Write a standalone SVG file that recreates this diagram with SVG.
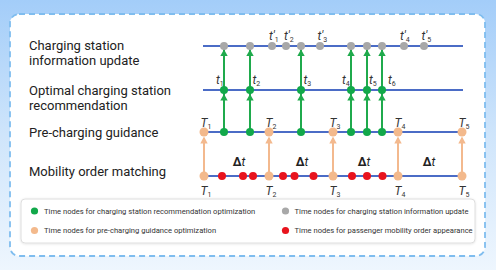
<svg xmlns="http://www.w3.org/2000/svg" width="496" height="270" viewBox="0 0 496 270">
  <defs>
    <linearGradient id="bg" x1="0" y1="0" x2="0" y2="1">
      <stop offset="0" stop-color="#a3cdf9"/>
      <stop offset="0.5" stop-color="#cfe5fb"/>
      <stop offset="1" stop-color="#eef6fe"/>
    </linearGradient>
    <filter id="sh" x="-5%" y="-20%" width="110%" height="140%">
      <feDropShadow dx="0" dy="0.5" stdDeviation="0.8" flood-color="#000" flood-opacity="0.12"/>
    </filter>
  </defs>
  <style>
    .lbl { font-family: Roboto, "Liberation Sans", sans-serif; font-size: 13px; fill: #222; }
    .leg { font-family: Roboto, "Liberation Sans", sans-serif; font-size: 7.6px; fill: #333; }
    .var { font-family: Roboto, "Liberation Sans", sans-serif; font-style: italic; font-size: 12px; fill: #333; }
    .sub { font-size: 7px; font-style: normal; }
    .dt { font-family: Roboto, "Liberation Sans", sans-serif; font-size: 12px; fill: #222; text-anchor: middle; }
    .axis { stroke: #4b6cc6; stroke-width: 2; fill: none; }
    .gl { stroke: #1faa4c; stroke-width: 2; fill: none; }
    .ol { stroke: #f3b98e; stroke-width: 2; fill: none; }
    .ga { fill: #1faa4c; }
    .oa { fill: #f3b98e; }
    .gn { fill: #12a84a; }
    .yn { fill: #a8a8a8; }
    .on { fill: #f3b98c; }
    .rn { fill: #e8131d; }
  </style>
  <rect x="0" y="0" width="496" height="270" fill="url(#bg)"/>
  <rect x="10" y="14" width="475" height="242" rx="9" fill="#ffffff" stroke="#7fbdef" stroke-width="1.8" stroke-dasharray="6 4"/>

  <g id="row-labels">
    <text class="lbl" x="29" y="50">Charging station</text>
    <text class="lbl" x="29" y="65">information update</text>
    <text class="lbl" x="29" y="95">Optimal charging station</text>
    <text class="lbl" x="29" y="110">recommendation</text>
    <text class="lbl" x="29" y="137">Pre-charging guidance</text>
    <text class="lbl" x="29" y="176">Mobility order matching</text>
  </g>

  <g id="axes">
    <line class="axis" x1="203" y1="46" x2="463" y2="46"/>
    <line class="axis" x1="203" y1="90" x2="463" y2="90"/>
    <line class="axis" x1="203" y1="132" x2="463" y2="132"/>
    <line class="axis" x1="203" y1="176" x2="463" y2="176"/>
  </g>

  <g id="connectors">
    <line class="gl" x1="224" y1="132" x2="224" y2="46"/>
    <line class="gl" x1="250" y1="132" x2="250" y2="46"/>
    <line class="gl" x1="301" y1="132" x2="301" y2="46"/>
    <line class="gl" x1="351" y1="132" x2="351" y2="46"/>
    <line class="gl" x1="367" y1="132" x2="367" y2="46"/>
    <line class="gl" x1="382" y1="132" x2="382" y2="46"/>
    <polygon class="ga" points="224,94 220.3,100.5 227.7,100.5"/>
    <polygon class="ga" points="250,94 246.3,100.5 253.7,100.5"/>
    <polygon class="ga" points="301,94 297.3,100.5 304.7,100.5"/>
    <polygon class="ga" points="351,94 347.3,100.5 354.7,100.5"/>
    <polygon class="ga" points="367,94 363.3,100.5 370.7,100.5"/>
    <polygon class="ga" points="382,94 378.3,100.5 385.7,100.5"/>
    <polygon class="ga" points="224,49.5 220.3,56 227.7,56"/>
    <polygon class="ga" points="250,49.5 246.3,56 253.7,56"/>
    <polygon class="ga" points="301,49.5 297.3,56 304.7,56"/>
    <polygon class="ga" points="351,49.5 347.3,56 354.7,56"/>
    <polygon class="ga" points="367,49.5 363.3,56 370.7,56"/>
    <polygon class="ga" points="382,49.5 378.3,56 385.7,56"/>
    <line class="ol" x1="204" y1="176" x2="204" y2="138"/>
    <line class="ol" x1="269" y1="176" x2="269" y2="138"/>
    <line class="ol" x1="333" y1="176" x2="333" y2="138"/>
    <line class="ol" x1="398" y1="176" x2="398" y2="138"/>
    <line class="ol" x1="462" y1="176" x2="462" y2="138"/>
    <polygon class="oa" points="204,136.5 200.3,143.5 207.7,143.5"/>
    <polygon class="oa" points="269,136.5 265.3,143.5 272.7,143.5"/>
    <polygon class="oa" points="333,136.5 329.3,143.5 336.7,143.5"/>
    <polygon class="oa" points="398,136.5 394.3,143.5 401.7,143.5"/>
    <polygon class="oa" points="462,136.5 458.3,143.5 465.7,143.5"/>
  </g>

  <g id="info-update-nodes">
    <circle class="yn" cx="224" cy="46" r="4"/>
    <circle class="yn" cx="250" cy="46" r="4"/>
    <circle class="yn" cx="272" cy="46" r="4"/>
    <circle class="yn" cx="286" cy="46" r="4"/>
    <circle class="yn" cx="301" cy="46" r="4"/>
    <circle class="yn" cx="320" cy="46" r="4"/>
    <circle class="yn" cx="351" cy="46" r="4"/>
    <circle class="yn" cx="367" cy="46" r="4"/>
    <circle class="yn" cx="382" cy="46" r="4"/>
    <circle class="yn" cx="404" cy="46" r="4"/>
    <circle class="yn" cx="424" cy="46" r="4"/>
    <text class="var" x="269" y="39.5">t′<tspan class="sub" dy="2">1</tspan></text>
    <text class="var" x="284" y="39.5">t′<tspan class="sub" dy="2">2</tspan></text>
    <text class="var" x="317.5" y="39.5">t′<tspan class="sub" dy="2">3</tspan></text>
    <text class="var" x="400" y="39.5">t′<tspan class="sub" dy="2">4</tspan></text>
    <text class="var" x="421.5" y="39.5">t′<tspan class="sub" dy="2">5</tspan></text>
  </g>

  <g id="recommendation-nodes">
    <circle class="gn" cx="224" cy="90" r="4"/>
    <circle class="gn" cx="250" cy="90" r="4"/>
    <circle class="gn" cx="301" cy="90" r="4"/>
    <circle class="gn" cx="351" cy="90" r="4"/>
    <circle class="gn" cx="367" cy="90" r="4"/>
    <circle class="gn" cx="382" cy="90" r="4"/>
    <text class="var" x="216" y="84">t<tspan class="sub" dy="2">1</tspan></text>
    <text class="var" x="252.5" y="84">t<tspan class="sub" dy="2">2</tspan></text>
    <text class="var" x="303.5" y="84">t<tspan class="sub" dy="2">3</tspan></text>
    <text class="var" x="342" y="84">t<tspan class="sub" dy="2">4</tspan></text>
    <text class="var" x="369" y="84">t<tspan class="sub" dy="2">5</tspan></text>
    <text class="var" x="388" y="84">t<tspan class="sub" dy="2">6</tspan></text>
  </g>

  <g id="guidance-nodes">
    <circle class="gn" cx="224" cy="132" r="4"/>
    <circle class="gn" cx="250" cy="132" r="4"/>
    <circle class="gn" cx="301" cy="132" r="4"/>
    <circle class="gn" cx="351" cy="132" r="4"/>
    <circle class="gn" cx="367" cy="132" r="4"/>
    <circle class="gn" cx="382" cy="132" r="4"/>
    <circle class="on" cx="204" cy="132" r="4.5"/>
    <circle class="on" cx="269" cy="132" r="4.5"/>
    <circle class="on" cx="333" cy="132" r="4.5"/>
    <circle class="on" cx="398" cy="132" r="4.5"/>
    <circle class="on" cx="462" cy="132" r="4.5"/>
    <text class="var" x="200.5" y="127">T<tspan class="sub" dy="2">1</tspan></text>
    <text class="var" x="265.5" y="127">T<tspan class="sub" dy="2">2</tspan></text>
    <text class="var" x="329.5" y="127">T<tspan class="sub" dy="2">3</tspan></text>
    <text class="var" x="394.5" y="127">T<tspan class="sub" dy="2">4</tspan></text>
    <text class="var" x="458.5" y="127">T<tspan class="sub" dy="2">5</tspan></text>
  </g>

  <g id="order-nodes">
    <circle class="rn" cx="222" cy="176" r="4"/>
    <circle class="rn" cx="243" cy="176" r="4"/>
    <circle class="rn" cx="253" cy="176" r="4"/>
    <circle class="rn" cx="283" cy="176" r="4"/>
    <circle class="rn" cx="294.5" cy="176" r="4"/>
    <circle class="rn" cx="313.5" cy="176" r="4"/>
    <circle class="rn" cx="352" cy="176" r="4"/>
    <circle class="rn" cx="367" cy="176" r="4"/>
    <circle class="rn" cx="382.5" cy="176" r="4"/>
    <circle class="on" cx="204" cy="176" r="4.5"/>
    <circle class="on" cx="269" cy="176" r="4.5"/>
    <circle class="on" cx="333" cy="176" r="4.5"/>
    <circle class="on" cx="398" cy="176" r="4.5"/>
    <circle class="on" cx="462" cy="176" r="4.5"/>
    <text class="var" x="200.5" y="195">T<tspan class="sub" dy="2">1</tspan></text>
    <text class="var" x="265.5" y="195">T<tspan class="sub" dy="2">2</tspan></text>
    <text class="var" x="329.5" y="195">T<tspan class="sub" dy="2">3</tspan></text>
    <text class="var" x="394.5" y="195">T<tspan class="sub" dy="2">4</tspan></text>
    <text class="var" x="458.5" y="195">T<tspan class="sub" dy="2">5</tspan></text>
    <text class="dt" x="239" y="166"><tspan font-weight="bold">Δ</tspan><tspan font-style="italic">t</tspan></text>
    <text class="dt" x="302" y="166"><tspan font-weight="bold">Δ</tspan><tspan font-style="italic">t</tspan></text>
    <text class="dt" x="364" y="166"><tspan font-weight="bold">Δ</tspan><tspan font-style="italic">t</tspan></text>
    <text class="dt" x="429" y="166"><tspan font-weight="bold">Δ</tspan><tspan font-style="italic">t</tspan></text>
  </g>

  <g id="legend">
    <rect x="21" y="199" width="454" height="44" rx="4" fill="#ffffff" stroke="#dedede" stroke-width="1" filter="url(#sh)"/>
    <circle class="gn" cx="34.5" cy="211" r="3.6"/>
    <text class="leg" x="44" y="213.5">Time nodes for charging station recommendation optimization</text>
    <circle class="yn" cx="285.5" cy="211" r="3.6"/>
    <text class="leg" x="294.5" y="213.5">Time nodes for charging station information update</text>
    <circle class="on" cx="34.5" cy="230.5" r="3.6"/>
    <text class="leg" x="44" y="233">Time nodes for pre-charging guidance optimization</text>
    <circle class="rn" cx="285.5" cy="230.5" r="3.6"/>
    <text class="leg" x="294.5" y="233">Time nodes for passenger mobility order appearance</text>
  </g>
</svg>
